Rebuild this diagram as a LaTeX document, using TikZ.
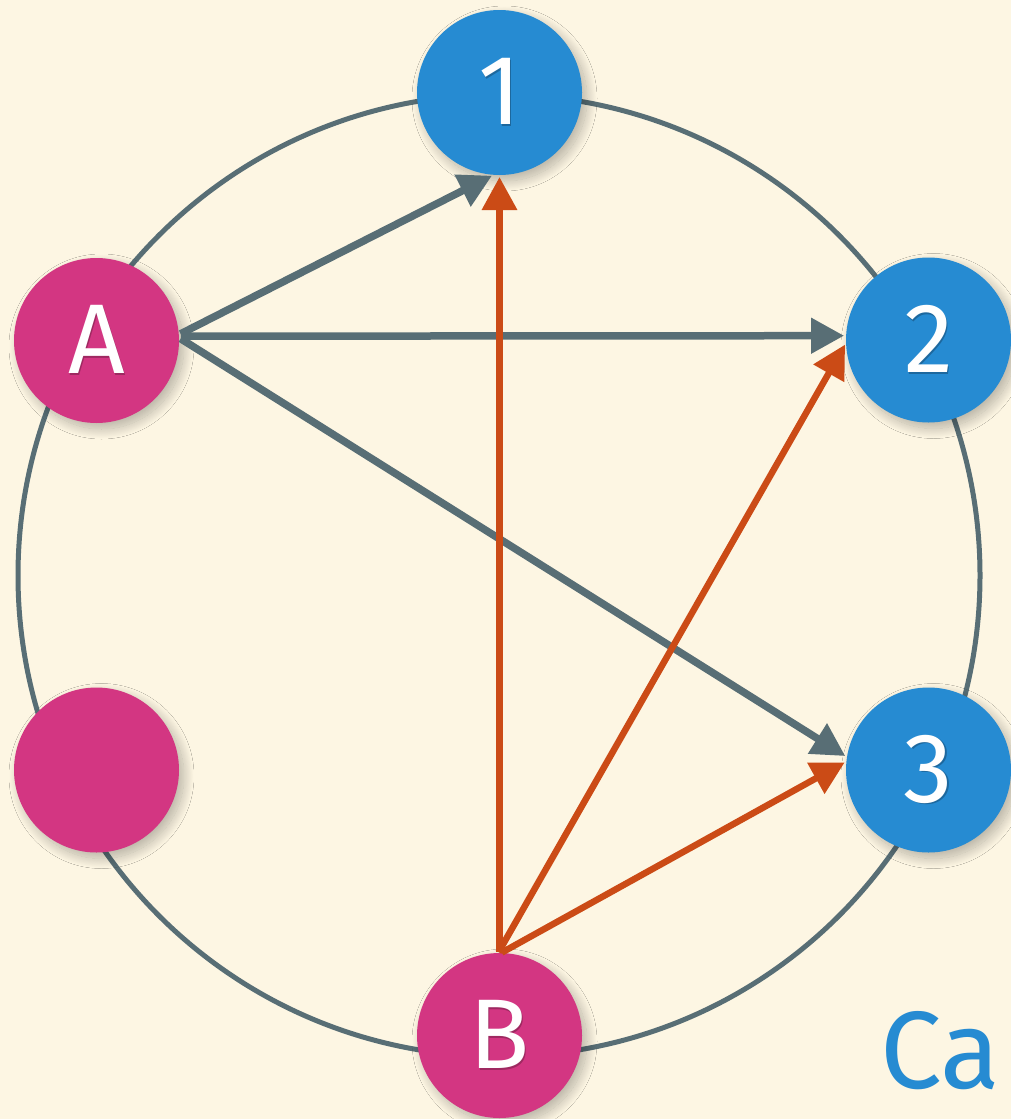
\documentclass[tikz,border=0pt]{standalone}
\usepackage{fontspec}
\setmainfont{Fira Sans}
\usetikzlibrary{arrows.meta,shadows.blur}
\definecolor{bgc}{HTML}{FDF6E3}
\definecolor{sblue}{HTML}{268BD2}
\definecolor{smag}{HTML}{D33682}
\definecolor{sorange}{HTML}{CB4B16}
\definecolor{sgray}{HTML}{586E75}
\newcommand\shtxt[2]{\makebox[0pt][l]{\hspace{1.5pt}\raisebox{-1.5pt}{\textcolor{#1}{#2}}}#2}
\begin{document}
\begin{tikzpicture}[x=1pt,y=-1pt,
  dot/.style={circle, inner sep=0pt, outer sep=0pt, minimum size=165pt, text=white,
    font=\fontsize{99}{104}\selectfont,
    blur shadow={shadow xshift=5pt, shadow yshift=-6pt, shadow blur radius=10pt, shadow blur steps=24, shadow opacity=28}},
  bluedot/.style={dot, fill=sblue},
  magdot/.style={dot, fill=smag},
  grayarrow/.style={draw=sgray, line width=7.5pt, -{Triangle[length=33pt,width=34pt]}, shorten <=2pt, shorten >=2pt},
  orangearrow/.style={draw=sorange, line width=6.5pt, -{Triangle[length=33pt,width=34pt]}, shorten <=1pt, shorten >=2pt},
  ring/.style={draw=sgray, line width=5pt}
]
\useasboundingbox[fill=bgc] (0,0) rectangle (1011,1119);
\draw[ring] (499,575.5) circle[radius=481];
\node[magdot] (A) at (96.5,340.5) {\shtxt{smag!75!black}{A}};
\node[magdot] (E) at (96.5,770) {};
\node[magdot] (B) at (499.5,1035.5) {\shtxt{smag!75!black}{B}};
\node[bluedot] (n1) at (499.5,92.5) {\shtxt{sblue!75!black}{1}};
\node[bluedot] (n2) at (928.5,340) {\shtxt{sblue!75!black}{2}};
\node[bluedot] (n3) at (928.5,770) {\shtxt{sblue!75!black}{3}};
\draw[grayarrow] (A.4) -- (n1.-94);
\draw[grayarrow] (A.3) -- (n2.177);
\draw[grayarrow] (A.2) -- (n3.171);
\draw[orangearrow] (B.90) -- (n1.-90);
\draw[orangearrow] (B.91) -- (n2.-178);
\draw[orangearrow] (B.89) -- (n3.174);
\node[text=sblue, font=\fontsize{110}{120}\selectfont, inner sep=0pt, anchor=base west] (ca) at (880,1088) {Ca};
\end{tikzpicture}
\end{document}
